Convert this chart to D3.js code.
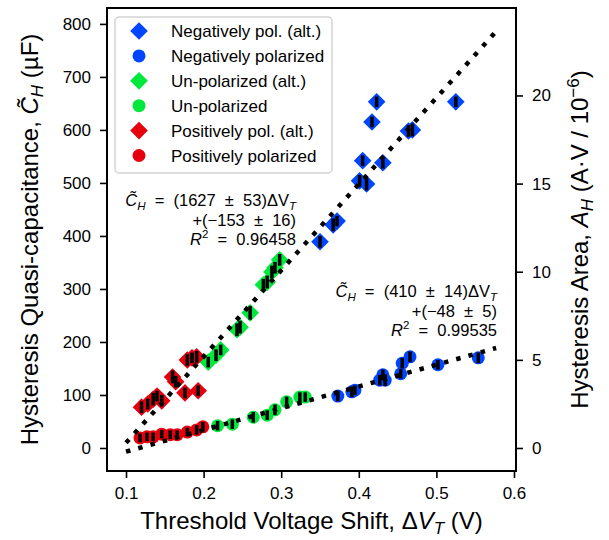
<!DOCTYPE html>
<html lang="en">
<head>
  <meta charset="utf-8">
  <title>Hysteresis quasi-capacitance vs threshold voltage shift</title>
  <script src="https://d3js.org/d3.v7.min.js"></script>
  <style>
    body { margin: 0; background: #fff; }
    svg { font-family: "Liberation Sans", Arial, Helvetica, sans-serif; }
  </style>
</head>
<body>
  <svg id="chart" width="609" height="540"></svg>

  <script>
    // --- data (ΔV_T in V, C_H in µF) ---
    const dvtNegAlt = [0.350, 0.367, 0.372, 0.401, 0.410, 0.405, 0.431, 0.464, 0.469, 0.417, 0.423, 0.525];
    const chNegAlt  = [389, 421, 428, 504, 498, 542, 538, 598, 600, 615, 653, 653];
    const errNegAlt = [11, 12, 10, 11, 12, 10, 11, 11, 12, 10, 10, 10];

    const dvtNeg = [0.373, 0.391, 0.395, 0.427, 0.434, 0.431, 0.454, 0.456, 0.466, 0.502, 0.554];
    const chNeg  = [98, 106, 109, 128, 128, 138, 140, 160, 172, 157, 170];
    const errNeg = [10, 10, 9, 10, 11, 10, 9, 10, 10, 9, 10];

    const dvtUnAlt = [0.206, 0.216, 0.222, 0.243, 0.247, 0.260, 0.277, 0.282, 0.288, 0.292, 0.298];
    const chUnAlt  = [162, 175, 185, 223, 228, 255, 308, 313, 332, 340, 355];
    const errUnAlt = [10, 11, 10, 12, 12, 13, 11, 12, 12, 11, 11];

    const dvtUn = [0.218, 0.237, 0.264, 0.282, 0.292, 0.307, 0.324, 0.331];
    const chUn  = [42, 45, 58, 62, 72, 87, 96, 96];
    const errUn = [9, 9, 10, 9, 10, 10, 9, 9];

    const dvtPosAlt = [0.120, 0.128, 0.135, 0.140, 0.146, 0.160, 0.164, 0.176, 0.193, 0.179, 0.185, 0.191];
    const chPosAlt  = [77, 83, 92, 98, 89, 134, 125, 104, 108, 166, 170, 172];
    const errPosAlt = [11, 10, 12, 10, 11, 12, 11, 10, 10, 11, 10, 11];

    const dvtPos = [0.118, 0.127, 0.135, 0.146, 0.157, 0.166, 0.179, 0.191, 0.199];
    const chPos  = [19, 21, 21, 26, 25, 25, 30, 34, 40];
    const errPos = [8, 8, 8, 8, 8, 8, 8, 9, 9];

    // linear fits shown as dotted lines
    const fitRange = [0.1, 0.577];
    const fitSlopes = [1627, 410];
    const fitIntercepts = [-153, -48];

    const xTicks = [0.1, 0.2, 0.3, 0.4, 0.5, 0.6];
    const yTicks = [0, 100, 200, 300, 400, 500, 600, 700, 800];
    const rightTicks = [0, 5, 10, 15, 20];
    const areaPerCap = 1 / 33.25; // right axis (A_H) relative to left axis (C_H)

    const series = [
      { name: "Negatively pol. (alt.)", x: dvtNegAlt, y: chNegAlt, e: errNegAlt, color: "#0045ff", shape: "diamond" },
      { name: "Negatively polarized",   x: dvtNeg,    y: chNeg,    e: errNeg,    color: "#0045ff", shape: "circle" },
      { name: "Un-polarized (alt.)",    x: dvtUnAlt,  y: chUnAlt,  e: errUnAlt,  color: "#00e83c", shape: "diamond" },
      { name: "Un-polarized",           x: dvtUn,     y: chUn,     e: errUn,     color: "#00e83c", shape: "circle" },
      { name: "Positively pol. (alt.)", x: dvtPosAlt, y: chPosAlt, e: errPosAlt, color: "#e6000e", shape: "diamond" },
      { name: "Positively polarized",   x: dvtPos,    y: chPos,    e: errPos,    color: "#e6000e", shape: "circle" }
    ];

    // --- layout ---
    const W = 609, H = 540;
    const margin = { top: 8, right: 93, bottom: 69, left: 107 };
    const iw = W - margin.left - margin.right;
    const ih = H - margin.top - margin.bottom;

    const svg = d3.select("#chart");
    const g = svg.append("g").attr("transform", `translate(${margin.left},${margin.top})`);

    const x = d3.scaleLinear().domain([0.0755, 0.6026]).range([0, iw]);
    const y = d3.scaleLinear().domain([-43.4, 830]).range([ih, 0]);
    const yRight = d3.scaleLinear().domain(y.domain().map(v => v * areaPerCap)).range([ih, 0]);

    // markers
    const diamond = d3.symbol().type(d3.symbolSquare).size(156);
    series.forEach(s => {
      const pts = s.x.map((v, i) => ({ x: v, y: s.y[i], e: s.e[i] }));
      const grp = g.append("g");
      if (s.shape === "diamond") {
        grp.selectAll("path").data(pts).join("path")
          .attr("d", diamond)
          .attr("transform", d => `translate(${x(d.x)},${y(d.y)}) rotate(45)`)
          .attr("fill", s.color);
      } else {
        grp.selectAll("circle").data(pts).join("circle")
          .attr("cx", d => x(d.x))
          .attr("cy", d => y(d.y))
          .attr("r", 6.5)
          .attr("fill", s.color);
      }
      s.pts = pts;
    });

    // error bars on top of markers
    series.forEach(s => {
      g.append("g")
          .attr("stroke", "#000")
          .attr("stroke-width", 3.5)
        .selectAll("line").data(s.pts).join("line")
          .attr("x1", d => x(d.x)).attr("x2", d => x(d.x))
          .attr("y1", d => y(d.y - d.e)).attr("y2", d => y(d.y + d.e));
    });

    // dotted fit lines
    const line = d3.line().x(d => x(d[0])).y(d => y(d[1]));
    fitSlopes.forEach((m, i) => {
      const pts = fitRange.map(v => [v, m * v + fitIntercepts[i]]);
      g.append("path")
          .attr("d", line(pts))
          .attr("fill", "none")
          .attr("stroke", "#000")
          .attr("stroke-width", 4.5)
          .attr("stroke-dasharray", "4.5,8.2");
    });

    // axes
    const tickFont = "17px";
    const xAxis = g.append("g")
        .attr("transform", `translate(0,${ih})`)
        .call(d3.axisBottom(x).tickValues(xTicks).tickFormat(d3.format(".1f")).tickSize(7).tickPadding(9));
    const yAxis = g.append("g")
        .call(d3.axisLeft(y).tickValues(yTicks).tickSize(7).tickPadding(9));
    const rAxis = g.append("g")
        .attr("transform", `translate(${iw},0)`)
        .call(d3.axisRight(yRight).tickValues(rightTicks).tickSize(7).tickPadding(9));

    [xAxis, yAxis, rAxis].forEach(a => {
      a.select(".domain").remove();
      a.selectAll(".tick line").attr("stroke", "#000").attr("stroke-width", 1.6);
      a.selectAll(".tick text").attr("fill", "#000")
          .style("font-size", tickFont)
          .style("font-family", '"Liberation Sans", Arial, sans-serif');
    });

    g.append("rect")
        .attr("width", iw).attr("height", ih)
        .attr("fill", "none")
        .attr("stroke", "#000")
        .attr("stroke-width", 2);

    // axis labels
    const labelFont = "24px", subFont = "17px";
    const xl = svg.append("text")
        .attr("x", margin.left + iw / 2)
        .attr("y", 529)
        .attr("text-anchor", "middle")
        .style("font-size", labelFont);
    xl.append("tspan").text("Threshold Voltage Shift, Δ");
    xl.append("tspan").attr("font-style", "italic").text("V");
    xl.append("tspan").attr("font-style", "italic").attr("dy", 5).style("font-size", subFont).text("T");
    xl.append("tspan").attr("dy", -5).text(" (V)");

    const yl = svg.append("text")
        .attr("transform", `translate(38,${margin.top + ih / 2}) rotate(-90)`)
        .attr("text-anchor", "middle")
        .style("font-size", labelFont);
    yl.append("tspan").text("Hysteresis Quasi-capacitance, ");
    yl.append("tspan").attr("font-style", "italic").text("C\u0303");
    yl.append("tspan").attr("font-style", "italic").attr("dy", 5).style("font-size", subFont).text("H");
    yl.append("tspan").attr("dy", -5).text(" (µF)");

    const rl = svg.append("text")
        .attr("transform", `translate(588,${margin.top + ih / 2}) rotate(-90)`)
        .attr("text-anchor", "middle")
        .style("font-size", labelFont);
    rl.append("tspan").text("Hysteresis Area, ");
    rl.append("tspan").attr("font-style", "italic").text("A");
    rl.append("tspan").attr("font-style", "italic").attr("dy", 5).style("font-size", subFont).text("H");
    rl.append("tspan").attr("dy", -5).text(" (A·V / 10");
    rl.append("tspan").attr("dy", -9).style("font-size", subFont).text("−6");
    rl.append("tspan").attr("dy", 9).text(")");

    // fit annotations (mathtext-like wide spacing around operators)
    const gap = "\u00A0\u00A0";
    function annotate(xr, y0, slope, slopeErr, intercept, interceptErr, r2) {
      const a = svg.append("g")
          .style("font-size", "16.5px")
          .attr("text-anchor", "end");
      const t1 = a.append("text").attr("x", xr).attr("y", y0);
      t1.append("tspan").attr("font-style", "italic").text("C\u0303");
      t1.append("tspan").attr("font-style", "italic").attr("dy", 4).style("font-size", "11.5px").text("H");
      t1.append("tspan").attr("dy", -4).text(`${gap}=${gap}(${slope}${gap}±${gap}${slopeErr})ΔV`);
      t1.append("tspan").attr("font-style", "italic").attr("dy", 4).style("font-size", "11.5px").text("T");
      a.append("text").attr("x", xr).attr("y", y0 + 20)
          .text(`+(−${intercept}${gap}±${gap}${interceptErr})`);
      const t3 = a.append("text").attr("x", xr).attr("y", y0 + 39);
      t3.append("tspan").attr("font-style", "italic").text("R");
      t3.append("tspan").attr("dy", -7).style("font-size", "11.5px").text("2");
      t3.append("tspan").attr("dy", 7).text(`${gap}=${gap}${r2}`);
    }
    annotate(296, 206, 1627, 53, 153, 16, "0.96458");
    annotate(497, 297, 410, 14, 48, 5, "0.99535");

    // legend
    const lg = svg.append("g");
    lg.append("rect")
        .attr("x", 115).attr("y", 17)
        .attr("width", 217).attr("height", 156)
        .attr("rx", 4)
        .attr("fill", "#fff").attr("fill-opacity", 0.8)
        .attr("stroke", "#d4d4d4").attr("stroke-width", 1.5);
    series.forEach((s, i) => {
      const ry = 31 + i * 24.9;
      if (s.shape === "diamond") {
        lg.append("path").attr("d", diamond)
          .attr("transform", `translate(139,${ry}) rotate(45)`)
          .attr("fill", s.color);
      } else {
        lg.append("circle").attr("cx", 139).attr("cy", ry).attr("r", 6.5).attr("fill", s.color);
      }
      lg.append("text")
          .attr("x", 171).attr("y", ry)
          .attr("dy", "0.36em")
          .style("font-size", "17px")
          .text(s.name);
    });
  </script>
</body>
</html>
